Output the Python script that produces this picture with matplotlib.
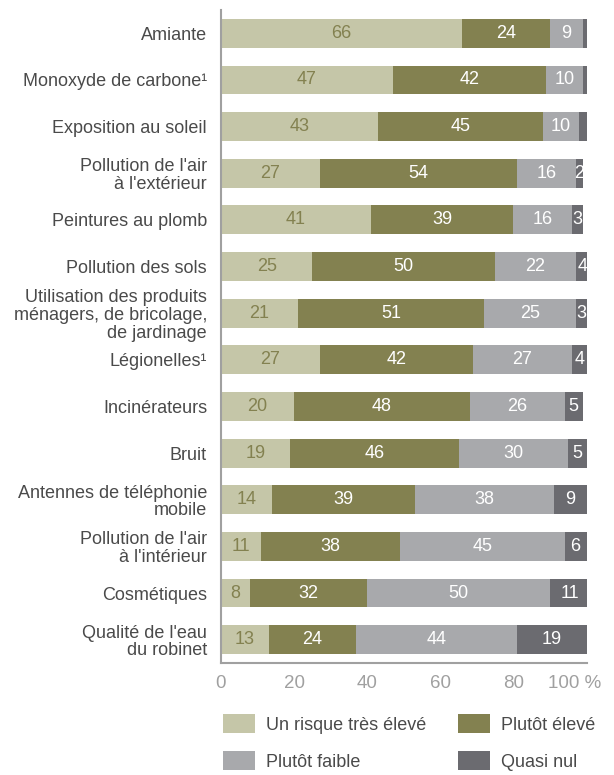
import matplotlib
matplotlib.use("Agg")
import matplotlib.pyplot as plt
from matplotlib.patches import Patch
from matplotlib.transforms import ScaledTranslation

plt.rcParams['font.family'] = ['Liberation Sans', 'DejaVu Sans']

categories = [
    "Amiante",
    "Monoxyde de carbone\u00b9",
    "Exposition au soleil",
    "Pollution de l'air\n\u00e0 l'ext\u00e9rieur",
    "Peintures au plomb",
    "Pollution des sols",
    "Utilisation des produits\nm\u00e9nagers, de bricolage,\nde jardinage",
    "L\u00e9gionelles\u00b9",
    "Incin\u00e9rateurs",
    "Bruit",
    "Antennes de t\u00e9l\u00e9phonie\nmobile",
    "Pollution de l'air\n\u00e0 l'int\u00e9rieur",
    "Cosm\u00e9tiques",
    "Qualit\u00e9 de l'eau\ndu robinet",
]

tres_eleve = [66, 47, 43, 27, 41, 25, 21, 27, 20, 19, 14, 11, 8, 13]
plutot_eleve = [24, 42, 45, 54, 39, 50, 51, 42, 48, 46, 39, 38, 32, 24]
plutot_faible = [9, 10, 10, 16, 16, 22, 25, 27, 26, 30, 38, 45, 50, 44]
quasi_nul = [1, 1, 2, 2, 3, 4, 3, 4, 5, 5, 9, 6, 11, 19]
# quasi nul values shown without a number
quasi_unlabeled = [0, 1, 2]

series_names = ["Un risque tr\u00e8s \u00e9lev\u00e9", "Plut\u00f4t \u00e9lev\u00e9",
                "Plut\u00f4t faible", "Quasi nul"]
colors = ["#c5c6a8", "#838150", "#a8a9ac", "#6b6b70"]
text_colors = ["#838150", "white", "white", "white"]

fig = plt.figure(figsize=(6.14, 7.75), dpi=100)
ax = fig.add_axes([221 / 614, 1 - 663 / 775, 365.5 / 614, 653 / 775])

y = list(range(len(categories)))
left = [0] * len(categories)
for k, vals in enumerate([tres_eleve, plutot_eleve, plutot_faible, quasi_nul]):
    ax.barh(y, vals, left=left, height=0.62, color=colors[k], linewidth=0)
    for i, v in enumerate(vals):
        if k == 3 and i in quasi_unlabeled:
            continue
        ax.text(left[i] + v / 2, i, f"{v}", ha="center", va="center",
                fontsize=13, color=text_colors[k])
    left = [a + b for a, b in zip(left, vals)]

ax.set_ylim(len(categories) - 0.5, -0.5)
ax.set_xlim(0, 100)
ax.set_yticks(y)
ax.set_yticklabels(categories, fontsize=13, color="#4a4a4a", linespacing=1.05)
ax.set_xticks([0, 20, 40, 60, 80, 100])
ax.set_xticklabels(["0", "20", "40", "60", "80", "100 %"], fontsize=13.5, color="#a0a0a0")
ax.tick_params(axis="both", length=0)
ax.tick_params(axis="y", pad=10)
ax.tick_params(axis="x", pad=9)
last = ax.get_xticklabels()[-1]
last.set_transform(last.get_transform() + ScaledTranslation(-0.12, 0, fig.dpi_scale_trans))

for side in ["top", "right"]:
    ax.spines[side].set_visible(False)
for side in ["left", "bottom"]:
    ax.spines[side].set_color("#a0a0a0")
    ax.spines[side].set_linewidth(1.5)

# legend: two columns, filled column by column
order = [0, 2, 1, 3]
handles = [Patch(facecolor=colors[k], edgecolor="none") for k in order]
labels = [series_names[k] for k in order]
fig.legend(handles, labels, ncol=2, loc="upper left",
           bbox_to_anchor=(223 / 614, 1 - 714 / 775), frameon=False,
           borderpad=0, borderaxespad=0,
           fontsize=13, labelcolor="#4a4a4a", handlelength=1.78, handleheight=1.28,
           columnspacing=1.75, labelspacing=0.95, handletextpad=0.6)

fig.savefig("out.png", dpi=100)
